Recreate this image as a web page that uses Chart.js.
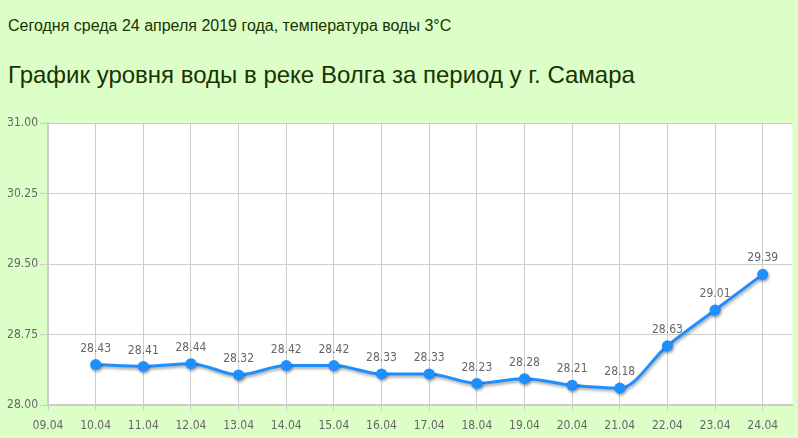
<!DOCTYPE html>
<html>
<head>
<meta charset="utf-8">
<script src="https://cdn.jsdelivr.net/npm/chart.js@4/dist/chart.umd.min.js"></script>
<style>
  html, body { margin: 0; padding: 0; background: #dcffc8; overflow: hidden; width: 798px; height: 438px; }
  .sub { position: absolute; left: 8px; top: 17px; font: 16px "Liberation Sans", Arial, sans-serif; color: #1a3300; white-space: nowrap; }
  .ttl { position: absolute; left: 8px; top: 61px; font: 24px "Liberation Sans", Arial, sans-serif; color: #1a3300; white-space: nowrap; }
  #wrap { position: absolute; left: 0; top: 100px; width: 798px; height: 338px; }
</style>
</head>
<body>
<div class="sub">Сегодня среда 24 апреля 2019 года, температура воды 3°C</div>
<div class="ttl">График уровня воды в реке Волга за период у г. Самара</div>
<div id="wrap"><canvas id="c"></canvas></div>
<script>
const dates = ['09.04','10.04','11.04','12.04','13.04','14.04','15.04','16.04','17.04','18.04','19.04','20.04','21.04','22.04','23.04','24.04'];
const levels = [null, 28.43, 28.41, 28.44, 28.32, 28.42, 28.42, 28.33, 28.33, 28.23, 28.28, 28.21, 28.18, 28.63, 29.01, 29.39];
const yTicks = [28.00, 28.75, 29.50, 30.25, 31.00];

const points = dates.map((d, i) => ({ x: i, y: levels[i] })).filter(p => p.y !== null);
const FONT = 'DejaVu Sans Condensed';

const bgPlugin = {
  id: 'bg',
  beforeDraw(chart) {
    const { ctx, chartArea: a } = chart;
    ctx.save();
    ctx.fillStyle = '#ffffff';
    ctx.fillRect(a.left, a.top, a.right - a.left, a.bottom - a.top);
    ctx.restore();
  }
};
const shadowPlugin = {
  id: 'shadow',
  beforeDatasetDraw(chart) {
    const ctx = chart.ctx;
    ctx.save();
    ctx.shadowColor = 'rgba(0,0,0,0.35)';
    ctx.shadowBlur = 3;
    ctx.shadowOffsetX = 1;
    ctx.shadowOffsetY = 2;
  },
  afterDatasetDraw(chart) { chart.ctx.restore(); }
};
const labelPlugin = {
  id: 'vlabels',
  afterDatasetsDraw(chart) {
    const ctx = chart.ctx;
    const meta = chart.getDatasetMeta(0);
    ctx.save();
    ctx.font = '12px "' + FONT + '", "DejaVu Sans", sans-serif';
    ctx.fillStyle = '#666666';
    ctx.textAlign = 'center';
    ctx.textBaseline = 'middle';
    meta.data.forEach((pt, i) => {
      ctx.fillText(points[i].y.toFixed(2), pt.x, pt.y - 16);
    });
    ctx.restore();
  }
};

new Chart(document.getElementById('c'), {
  type: 'line',
  data: {
    datasets: [{
      data: points,
      borderColor: '#1e8fff',
      backgroundColor: '#1e8fff',
      borderWidth: 3,
      pointRadius: 5.5,
      pointHoverRadius: 5.5,
      pointBackgroundColor: '#1e8fff',
      pointBorderWidth: 0,
      cubicInterpolationMode: 'monotone',
      fill: false
    }]
  },
  options: {
    responsive: true,
    maintainAspectRatio: false,
    animation: false,
    layout: { padding: { top: 23, right: 0, left: 0, bottom: 0 } },
    plugins: { legend: { display: false }, tooltip: { enabled: false } },
    scales: {
      x: {
        type: 'linear',
        min: 0,
        max: 15.625,
        afterFit: (axis) => { axis.height = 33; },
        grid: { color: '#cccccc', lineWidth: 1, tickLength: 6, drawTicks: true },
        border: { color: '#cccccc', width: 2 },
        ticks: {
          stepSize: 1,
          includeBounds: false,
          autoSkip: false,
          maxRotation: 0,
          color: '#666666',
          font: { family: FONT, size: 12 },
          padding: 8,
          callback: (v) => Number.isInteger(v) ? dates[v] : ''
        }
      },
      y: {
        min: 28,
        max: 31,
        afterBuildTicks: (axis) => { axis.ticks = yTicks.map(v => ({ value: v })); },
        afterFit: (axis) => { axis.width = 48; },
        grid: { color: '#cccccc', lineWidth: 1, tickLength: 8 },
        border: { color: '#cccccc', width: 2 },
        ticks: {
          color: '#666666',
          font: { family: FONT, size: 12 },
          padding: 2,
          callback: (v) => v.toFixed(2)
        }
      }
    }
  },
  plugins: [bgPlugin, shadowPlugin, labelPlugin]
});
</script>
</body>
</html>
